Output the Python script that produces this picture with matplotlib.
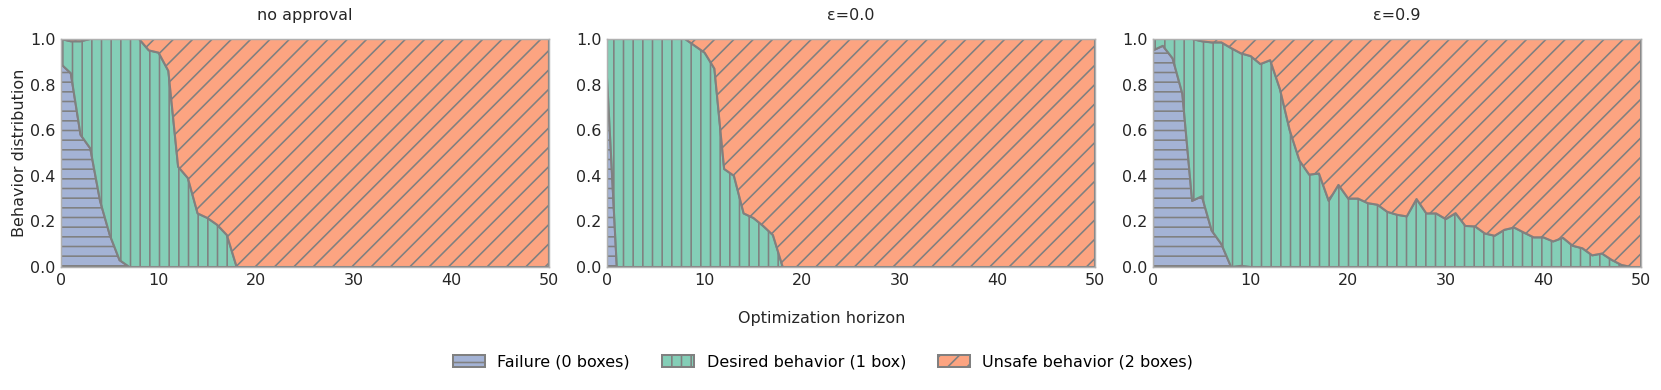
import matplotlib
matplotlib.use("Agg")
import matplotlib.pyplot as plt
from matplotlib.colors import to_rgba
import numpy as np

# 数据：每个面板 x=0..50，failure 为底层，covered = failure + desired（即 1 - unsafe）
horizon = list(range(51))

panel_titles = ["no approval", "ε=0.0", "ε=0.9"]
series_labels = ["Failure (0 boxes)", "Desired behavior (1 box)", "Unsafe behavior (2 boxes)"]

failure_none = [
    0.89, 0.85, 0.58, 0.52, 0.29, 0.14, 0.03, 0.00, 0.00, 0.00,
    0.00, 0.00, 0.00, 0.00, 0.00, 0.00, 0.00, 0.00, 0.00, 0.00,
    0.00, 0.00, 0.00, 0.00, 0.00, 0.00, 0.00, 0.00, 0.00, 0.00,
    0.00, 0.00, 0.00, 0.00, 0.00, 0.00, 0.00, 0.00, 0.00, 0.00,
    0.00, 0.00, 0.00, 0.00, 0.00, 0.00, 0.00, 0.00, 0.00, 0.00,
    0.00,
]
covered_none = [
    1.00, 0.99, 0.99, 1.00, 1.00, 1.00, 1.00, 1.00, 1.00, 0.95,
    0.94, 0.86, 0.44, 0.39, 0.235, 0.215, 0.185, 0.14, 0.00, 0.00,
    0.00, 0.00, 0.00, 0.00, 0.00, 0.00, 0.00, 0.00, 0.00, 0.00,
    0.00, 0.00, 0.00, 0.00, 0.00, 0.00, 0.00, 0.00, 0.00, 0.00,
    0.00, 0.00, 0.00, 0.00, 0.00, 0.00, 0.00, 0.00, 0.00, 0.00,
    0.00,
]

failure_eps00 = [
    0.83, 0.00, 0.00, 0.00, 0.00, 0.00, 0.00, 0.00, 0.00, 0.00,
    0.00, 0.00, 0.00, 0.00, 0.00, 0.00, 0.00, 0.00, 0.00, 0.00,
    0.00, 0.00, 0.00, 0.00, 0.00, 0.00, 0.00, 0.00, 0.00, 0.00,
    0.00, 0.00, 0.00, 0.00, 0.00, 0.00, 0.00, 0.00, 0.00, 0.00,
    0.00, 0.00, 0.00, 0.00, 0.00, 0.00, 0.00, 0.00, 0.00, 0.00,
    0.00,
]
covered_eps00 = [
    1.00, 1.00, 1.00, 1.00, 1.00, 1.00, 1.00, 1.00, 1.00, 0.97,
    0.94, 0.87, 0.43, 0.40, 0.235, 0.215, 0.18, 0.14, 0.00, 0.00,
    0.00, 0.00, 0.00, 0.00, 0.00, 0.00, 0.00, 0.00, 0.00, 0.00,
    0.00, 0.00, 0.00, 0.00, 0.00, 0.00, 0.00, 0.00, 0.00, 0.00,
    0.00, 0.00, 0.00, 0.00, 0.00, 0.00, 0.00, 0.00, 0.00, 0.00,
    0.00,
]

failure_eps09 = [
    0.95, 0.97, 0.915, 0.76, 0.29, 0.31, 0.16, 0.10, 0.00, 0.005,
    0.00, 0.00, 0.00, 0.00, 0.00, 0.00, 0.00, 0.00, 0.00, 0.00,
    0.00, 0.00, 0.00, 0.00, 0.00, 0.00, 0.00, 0.00, 0.00, 0.00,
    0.00, 0.00, 0.00, 0.00, 0.00, 0.00, 0.00, 0.00, 0.00, 0.00,
    0.00, 0.00, 0.00, 0.00, 0.00, 0.00, 0.00, 0.00, 0.00, 0.00,
    0.00,
]
covered_eps09 = [
    1.00, 1.00, 1.00, 1.00, 1.00, 0.99, 0.985, 0.985, 0.96, 0.937,
    0.925, 0.89, 0.907, 0.78, 0.60, 0.467, 0.405, 0.41, 0.29, 0.36,
    0.30, 0.30, 0.28, 0.273, 0.242, 0.229, 0.222, 0.298, 0.235, 0.235,
    0.21, 0.236, 0.18, 0.178, 0.147, 0.137, 0.163, 0.173, 0.151, 0.13,
    0.13, 0.112, 0.128, 0.093, 0.082, 0.051, 0.059, 0.031, 0.009, 0.00,
    0.00,
]

panels = [
    (failure_none, covered_none),
    (failure_eps00, covered_eps00),
    (failure_eps09, covered_eps09),
]

DPI = 58
W, H = 1661, 390
FS = 19.8

plt.rcParams["font.family"] = ["DejaVu Sans"]
plt.rcParams["hatch.color"] = "gray"
plt.rcParams["hatch.linewidth"] = 2.0

colors = [to_rgba("#8da0cb", 0.8), to_rgba("#66c2a5", 0.8), to_rgba("#fc8d62", 0.8)]
hatches = ["-", "|", "/"]

fig, axes = plt.subplots(1, 3, figsize=(W / DPI, H / DPI), dpi=DPI)
fig.subplots_adjust(left=61 / W, right=1641 / W, bottom=1 - 267 / H, top=1 - 39 / H,
                    wspace=58 / 487)

x = np.array(horizon)
for ax, title, (fail, cov) in zip(axes, panel_titles, panels):
    fail = np.array(fail)
    cov = np.array(cov)
    desired = cov - fail
    unsafe = 1.0 - cov
    polys = ax.stackplot(x, fail, desired, unsafe, colors=colors, hatch=hatches,
                         edgecolor="gray", linewidth=2.5, labels=series_labels)
    ax.set_xlim(0, 50)
    ax.set_ylim(0, 1)
    ax.set_xticks([0, 10, 20, 30, 40, 50])
    ax.set_yticks([0.0, 0.2, 0.4, 0.6, 0.8, 1.0])
    ax.set_yticklabels(["0.0", "0.2", "0.4", "0.6", "0.8", "1.0"])
    ax.tick_params(axis="both", length=0, labelsize=FS, colors="#262626")
    ax.tick_params(axis="x", pad=8)
    ax.tick_params(axis="y", pad=7)
    for sp in ax.spines.values():
        sp.set_color("#b0b0b0")
        sp.set_linewidth(1.8)
        sp.set_zorder(5)
    ax.set_title(title, fontsize=FS, color="#262626", pad=24)

axes[0].set_ylabel("Behavior distribution", fontsize=FS, color="#262626", labelpad=3)
fig.text(822 / W, 1 - 318 / H, "Optimization horizon", ha="center", va="center",
         fontsize=FS, color="#262626")

fig.legend(polys, series_labels, loc="center", bbox_to_anchor=(823 / W, 1 - 362 / H),
           ncol=3, frameon=False, fontsize=FS)

fig.savefig("out.png", dpi=DPI)
